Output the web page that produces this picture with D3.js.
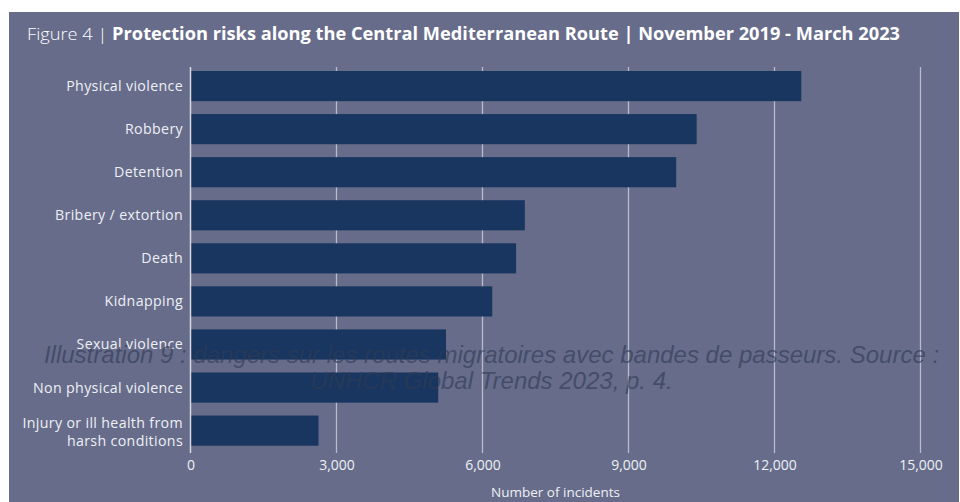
<!DOCTYPE html>
<html>
<head>
<meta charset="utf-8">
<script src="https://cdn.jsdelivr.net/npm/d3@7"></script>
<style>
  body { margin: 0; background: #fff; }
  svg { display: block; }
</style>
</head>
<body>
<div id="chart"></div>
<script>
// data
const categories = ['Physical violence', 'Robbery', 'Detention', 'Bribery / extortion', 'Death',
  'Kidnapping', 'Sexual violence', 'Non physical violence', 'Injury or ill health from|harsh conditions'];
const incidents = [12550, 10400, 9980, 6870, 6690, 6200, 5250, 5090, 2630];
const xTicks = [0, 3000, 6000, 9000, 12000, 15000];
const overlayLines = ['Illustration 9 : dangers sur les routes migratoires avec bandes de passeurs. Source :',
  'UNHCR Global Trends 2023, p. 4.'];

const w = 960, h = 502;
const font = 'Open Sans';
const svg = d3.select('#chart').append('svg').attr('width', w).attr('height', h);

// panel
svg.append('rect').attr('x', 9).attr('y', 12).attr('width', 950).attr('height', h - 12)
  .attr('fill', '#676c8a');

// title
const title = svg.append('text').attr('x', 27).attr('y', 40)
  .attr('font-family', font).attr('font-size', 17).attr('fill', '#fff');
title.append('tspan').attr('font-weight', 300).text('Figure 4 | ');
title.append('tspan').attr('font-weight', 700)
  .text('Protection risks along the Central Mediterranean Route | November 2019 - March 2023');
// stretch to the width of the original heading
if (title.node().getComputedTextLength() > 0) {
  title.attr('textLength', 873).attr('lengthAdjust', 'spacingAndGlyphs');
}

const xScale = d3.scaleLinear().domain([0, 15000]).range([190.5, 920.5]);
const yScale = d3.scaleBand().domain(categories).range([66.7, 450]).paddingInner(0.3).paddingOuter(0.1);

// grid
svg.append('g').selectAll('line').data(xTicks.slice(1)).enter().append('line')
  .attr('x1', d => xScale(d)).attr('x2', d => xScale(d))
  .attr('y1', 67).attr('y2', 453)
  .attr('stroke', '#b9bbcc').attr('stroke-width', 1.3);

// bars
svg.append('g').selectAll('rect').data(incidents).enter().append('rect')
  .attr('x', xScale(0))
  .attr('y', (d, i) => yScale(categories[i]))
  .attr('width', d => xScale(d) - xScale(0))
  .attr('height', yScale.bandwidth())
  .attr('fill', '#18365f');

// y axis line
svg.append('line').attr('x1', xScale(0)).attr('x2', xScale(0)).attr('y1', 67).attr('y2', 453)
  .attr('stroke', '#d6d7e0').attr('stroke-width', 1.5);

// category labels
const labels = svg.append('g').selectAll('text').data(categories).enter().append('text')
  .attr('x', 183)
  .attr('text-anchor', 'end')
  .attr('font-family', font).attr('font-size', 14.2).attr('letter-spacing', 0.35)
  .attr('fill', '#eef0f5');
labels.each(function(d) {
  const parts = d.split('|');
  const cy = yScale(d) + yScale.bandwidth() / 2;
  const lh = 18;
  parts.forEach((p, j) => {
    d3.select(this).append('tspan').attr('x', 183)
      .attr('y', cy + (j - (parts.length - 1) / 2) * lh + 5 + (parts.length - 1) * 1.5).text(p);
  });
});

// x axis tick labels
const xAxis = d3.axisBottom(xScale).tickValues(xTicks).tickSize(0).tickPadding(7)
  .tickFormat(d3.format(','));
const gx = svg.append('g').attr('transform', 'translate(0,453)').call(xAxis);
gx.select('.domain').remove();
gx.selectAll('text').attr('font-family', font).attr('font-size', 14).attr('fill', '#eef0f5');

svg.append('text').attr('x', xScale(7500)).attr('y', 497).attr('text-anchor', 'middle')
  .attr('font-family', font).attr('font-size', 13.5).attr('fill', '#eef0f5')
  .text('Number of incidents');

// overlay caption
svg.append('g').selectAll('text').data(overlayLines).enter().append('text')
  .attr('x', 491.5).attr('y', (d, i) => 363 + i * 26)
  .attr('text-anchor', 'middle')
  .attr('font-family', 'Liberation Sans').attr('font-style', 'italic').attr('font-size', 24)
  .attr('fill', '#2f3b55').attr('fill-opacity', 0.65)
  .text(d => d);
</script>
</body>
</html>
